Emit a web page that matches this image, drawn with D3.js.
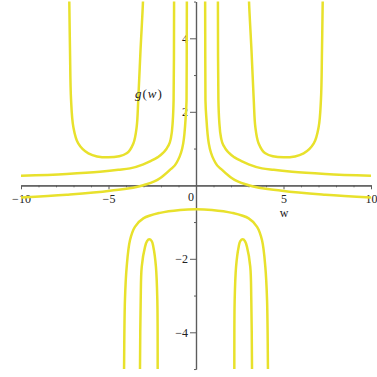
<!DOCTYPE html>
<html>
<head>
<meta charset="utf-8">
<script src="https://cdn.jsdelivr.net/npm/d3@7"></script>
<style>
  html, body { margin: 0; padding: 0; background: #fff; }
  svg { display: block; }
  .ax text { font-family: "Liberation Serif", "DejaVu Serif", serif; font-size: 12px; fill: #222; }
</style>
</head>
<body>
<svg id="chart" width="377" height="377"></svg>
<script>
// ---- data (w, g) ----
const leftU = [[-7.26,5.5],[-7.24,5.0],[-7.2,3.68],[-7.14,2.33],[-7.01,1.59],[-6.73,1.14],[-6.15,0.87],[-5.01,0.76],[-3.96,0.87],[-3.58,1.14],[-3.39,1.59],[-3.30,2.32],[-3.17,3.68],[-3.03,5.0],[-3.01,5.5]];
const rightU = [[3.01,5.5],[3.03,5.0],[3.17,3.68],[3.30,2.32],[3.39,1.59],[3.58,1.14],[3.96,0.87],[5.01,0.76],[6.15,0.87],[6.73,1.14],[7.01,1.59],[7.14,2.33],[7.2,3.68],[7.24,5.0],[7.26,5.5]];
const upperLeft = [[-10,0.26],[-7.39,0.31],[-5.49,0.37],[-4.44,0.42],[-3.77,0.46],[-3.01,0.57],[-2.63,0.65],[-2.2,0.76],[-1.87,0.89],[-1.6,1.06],[-1.45,1.25],[-1.34,1.66],[-1.28,2.32],[-1.26,3.5],[-1.25,5.5]];
const upperRight = [[1.25,5.5],[1.26,3.5],[1.28,2.32],[1.34,1.66],[1.45,1.25],[1.6,1.06],[1.87,0.89],[2.2,0.76],[2.63,0.65],[3.01,0.57],[3.77,0.46],[4.44,0.42],[5.49,0.37],[7.39,0.31],[10,0.26]];
const lowerLeft = [[-10,-0.33],[-7.39,-0.26],[-4.91,-0.15],[-3.01,0.0],[-2.06,0.19],[-1.87,0.26],[-1.49,0.42],[-1.10,0.62],[-0.73,1.14],[-0.6,1.78],[-0.54,2.32],[-0.53,3.5],[-0.52,5.5]];
const lowerRight = [[0.52,5.5],[0.53,3.5],[0.54,2.32],[0.6,1.78],[0.73,1.14],[1.10,0.62],[1.49,0.42],[1.87,0.26],[2.06,0.19],[3.01,0.0],[4.91,-0.15],[7.39,-0.26],[10,-0.33]];
const bigCap = [[-4.12,-5.5],[-4.11,-4.94],[-4.06,-3.12],[-3.96,-2.21],[-3.77,-1.49],[-3.49,-1.13],[-3.01,-0.90],[-2.06,-0.75],[-0.91,-0.67],[0,-0.65],[0.91,-0.67],[2.06,-0.75],[3.01,-0.90],[3.49,-1.13],[3.77,-1.49],[3.96,-2.21],[4.06,-3.12],[4.11,-4.94],[4.12,-5.5]];
const capLeft = [[-3.2,-5.5],[-3.2,-4.94],[-3.16,-3.12],[-3.10,-2.21],[-2.91,-1.67],[-2.80,-1.52],[-2.67,-1.47],[-2.53,-1.52],[-2.44,-1.67],[-2.29,-2.21],[-2.21,-3.12],[-2.19,-4.94],[-2.19,-5.5]];
const capRight = [[2.19,-5.5],[2.19,-4.94],[2.21,-3.12],[2.29,-2.21],[2.44,-1.67],[2.53,-1.52],[2.67,-1.47],[2.80,-1.52],[2.91,-1.67],[3.10,-2.21],[3.16,-3.12],[3.2,-4.94],[3.2,-5.5]];
const loopCurves = [leftU, rightU, bigCap, capLeft, capRight];
const branchCurves = [upperLeft, upperRight, lowerLeft, lowerRight];

const xMajor = [-10, -5, 5, 10];
const xMinor = [-9,-8,-7,-6,-4,-3,-2,-1,1,2,3,4,6,7,8,9];
const yMajor = [-4, -2, 2, 4];
const yMinor = [-5,-3,-1,1,3,5];
const xLabel = "w";

// ---- drawing ----
const svg = d3.select("#chart");
const x = d3.scaleLinear().domain([-10, 10]).range([21, 371]);
const y = d3.scaleLinear().domain([-5, 5]).range([369.05, 1.55]);

const axisColor = "#5c5c5c";
const lineColor = "#e8e12c";
const fmt = d => d < 0 ? "\u2212" + Math.abs(d) : d;

// x axis
const gx = svg.append("g").attr("class", "ax").attr("transform", `translate(0,${y(0)})`);
gx.append("g").call(d3.axisBottom(x).tickValues(xMinor).tickSize(2).tickSizeOuter(0).tickFormat(""))
  .call(g => g.selectAll("line,path").attr("stroke", axisColor));
gx.append("g").call(d3.axisBottom(x).tickValues(xMajor).tickSize(4).tickSizeOuter(0).tickPadding(5).tickFormat(fmt))
  .call(g => g.selectAll("line,path").attr("stroke", axisColor))
  .call(g => g.selectAll("text").attr("fill", "#222").style("font-size", "12px"));
gx.selectAll(".domain").attr("stroke-width", 1.2);

// "0" label at origin
svg.append("text").attr("x", x(0) - 5).attr("y", y(0) + 15.5)
  .attr("text-anchor", "middle").style("font-family", "Liberation Serif, serif").style("font-size", "12px")
  .attr("fill", "#222").text("0");

// y axis
const gy = svg.append("g").attr("class", "ax").attr("transform", `translate(${x(0)},0)`);
gy.append("g").call(d3.axisLeft(y).tickValues(yMinor).tickSize(2).tickSizeOuter(0).tickFormat(""))
  .call(g => g.selectAll("line,path").attr("stroke", axisColor));
gy.append("g").call(d3.axisLeft(y).tickValues(yMajor).tickSize(6).tickSizeOuter(0).tickPadding(2).tickFormat(fmt))
  .call(g => g.selectAll("line,path").attr("stroke", axisColor))
  .call(g => g.selectAll("text").attr("fill", "#222").style("font-size", "12px"));
gy.selectAll(".domain").attr("stroke-width", 1.2);

// clip
svg.append("clipPath").attr("id", "clip").append("rect")
  .attr("x", x(-10)).attr("y", y(5)).attr("width", x(10) - x(-10)).attr("height", y(-5) - y(5));

const loopLine = d3.line().x(d => x(d[0])).y(d => y(d[1])).curve(d3.curveCatmullRom.alpha(0.5));
const branchLine = d3.line().x(d => x(d[0])).y(d => y(d[1])).curve(d3.curveMonotoneX);
const plot = svg.append("g").attr("clip-path", "url(#clip)");
plot.selectAll("path.loop").data(loopCurves).join("path").attr("class", "loop")
  .attr("d", loopLine).attr("fill", "none").attr("stroke", lineColor).attr("stroke-width", 2.5);
plot.selectAll("path.branch").data(branchCurves).join("path").attr("class", "branch")
  .attr("d", branchLine).attr("fill", "none").attr("stroke", lineColor).attr("stroke-width", 2.5);

// axis labels
svg.append("text").attr("x", 284).attr("y", 217).attr("text-anchor", "middle")
  .style("font-family", "Liberation Serif, serif").style("font-size", "12px").attr("fill", "#222").text(xLabel);
const gl = svg.append("text").attr("x", 135).attr("y", 98)
  .style("font-family", "Liberation Serif, serif").style("font-size", "13px").attr("fill", "#222");
gl.append("tspan").style("font-style", "italic").text("g");
gl.append("tspan").attr("dx", 1).text("(");
gl.append("tspan").style("font-style", "italic").attr("dx", 1).text("w");
gl.append("tspan").attr("dx", 1).text(")");
</script>
</body>
</html>
